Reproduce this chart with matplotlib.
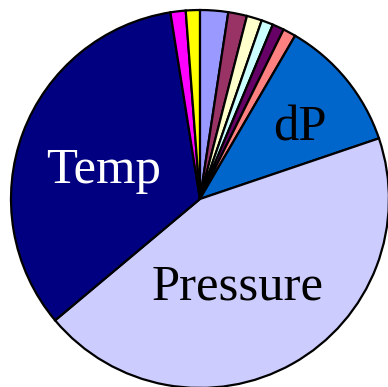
import matplotlib
matplotlib.use("Agg")
import matplotlib.pyplot as plt

# Valores de cada porción (porcentaje)
etiquetas = ["", "", "", "", "", "", "dP", "Pressure", "Temp", "", ""]
valores = [2.4, 1.6, 1.3, 1.0, 1.0, 1.1, 11.4, 44.1, 33.6, 1.3, 1.2]
colores = ["#9999FF", "#993366", "#FFFFCC", "#CCFFFF", "#660066", "#FF8080",
           "#0066CC", "#CCCCFF", "#000080", "#FF00FF", "#FFFF00"]

fig = plt.figure(figsize=(3.88, 3.87), dpi=100)
ax = fig.add_axes([0, 0, 1, 1])

ax.pie(valores, colors=colores, startangle=90, counterclock=False,
       radius=1, center=(0, 0),
       wedgeprops=dict(edgecolor="black", linewidth=1.6))

# Etiquetas dentro de las porciones grandes
pos_texto = {"dP": (0.53, 0.31, "black"),
             "Pressure": (0.198, -0.534, "black"),
             "Temp": (-0.508, 0.085, "white")}
for nombre in etiquetas:
    if nombre in pos_texto:
        x, y, c = pos_texto[nombre]
        ax.text(x, y, nombre, ha="center", va="baseline", color=c,
                fontsize=36.5, family="Liberation Serif")

ax.set_xlim(-1.058, 0.995)
ax.set_ylim(-0.995, 1.053)
ax.axis("off")

fig.savefig("out.png", dpi=100)
